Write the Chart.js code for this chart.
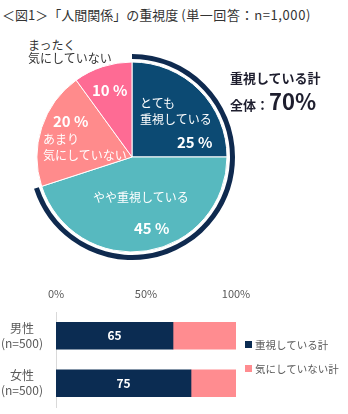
<!DOCTYPE html>
<html>
<head>
<meta charset="utf-8">
<script src="https://cdn.jsdelivr.net/npm/chart.js@4.4.1/dist/chart.umd.min.js"></script>
<style>
  body { margin: 0; width: 348px; height: 414px; background: #fff; position: relative; overflow: hidden;
         font-family: "Noto Sans CJK JP", "Noto Sans", sans-serif; }
  .t { position: absolute; white-space: nowrap; line-height: 1; }
  .w { color: #fff; font-size: 12px; }
  .wb { color: #fff; font-size: 15px; font-weight: bold; }
  .g { color: #333; font-size: 12px; }
  #pieBox { position: absolute; left: 29px; top: 54px; width: 206px; height: 206px; }
  #barBox { position: absolute; left: 0; top: 280px; width: 348px; height: 134px; }
  .lg { position: absolute; left: 245px; font-size: 10.5px; color: #595959; white-space: nowrap; line-height: 1; }
  .lg i { display: inline-block; width: 7px; height: 7px; margin-right: 3px; vertical-align: 1px; }
</style>
</head>
<body>
<div class="t" style="left:2px; top:8px; font-size:13px; color:#333;">＜図1＞「人間関係」の重視度 <span style="letter-spacing:0.6px;">(単一回答：n=1,000)</span></div>

<div id="pieBox"><canvas id="pie"></canvas></div>

<div class="t g" style="left:28px; top:39px;">まったく</div>
<div class="t g" style="left:28px; top:52px;">気にしていない</div>
<div class="t wb" style="left:92px; top:82px;">10 %</div>
<div class="t w" style="left:140px; top:97px;">とても</div>
<div class="t w" style="left:140px; top:113px;">重視している</div>
<div class="t wb" style="left:177px; top:134px;">25 %</div>
<div class="t wb" style="left:53px; top:113px;">20 %</div>
<div class="t w" style="left:43px; top:133px;">あまり</div>
<div class="t w" style="left:43px; top:149px;">気にしていない</div>
<div class="t w" style="left:93px; top:191px;">やや重視している</div>
<div class="t wb" style="left:134px; top:220px;">45 %</div>

<div class="t" style="left:230px; top:71px; font-size:13px; font-weight:bold; color:#1e1e2e;">重視している計</div>
<div class="t" style="left:230px; top:89px; font-size:13px; font-weight:bold; color:#1e1e2e;">全体：<span style="font-size:22px;">70%</span></div>

<div id="barBox"><canvas id="bar"></canvas></div>
<div class="lg" style="top:340px;"><i style="background:#0b2c52"></i>重視している計</div>
<div class="lg" style="top:364px;"><i style="background:#ff8c90"></i>気にしていない計</div>

<script>
// pie data (clockwise from top)
const pieLabels = ['とても重視している', 'やや重視している', 'あまり気にしていない', 'まったく気にしていない'];
const pieValues = [25, 45, 20, 10];
const pieColors = ['#0c4a73', '#57b9bf', '#ff8b8c', '#fe6b94'];

// outer ring: total of 重視している
const ringValues = [70, 30];

// bar data
const barCategories = [['男性', '(n=500)'], ['女性', '(n=500)']];
const importantTotal = [65, 75];
const notCareTotal = [35, 25];
const xTicks = [0, 50, 100];

new Chart(document.getElementById('pie'), {
    type: 'doughnut',
    data: {
        labels: pieLabels,
        datasets: [
            {
                data: ringValues,
                backgroundColor: ['#0f2a4f', 'rgba(0,0,0,0)'],
                borderWidth: 0,
                weight: 5
            },
            {
                data: ringValues,
                backgroundColor: ['rgba(0,0,0,0)', 'rgba(0,0,0,0)'],
                borderWidth: 0,
                weight: 3
            },
            {
                data: pieValues,
                backgroundColor: pieColors,
                borderColor: '#ffffff',
                borderWidth: 1,
                weight: 95
            }
        ]
    },
    options: {
        responsive: true,
        maintainAspectRatio: false,
        animation: false,
        cutout: 0,
        plugins: { legend: { display: false }, tooltip: { enabled: false } }
    }
});

// value labels inside the navy bar segments
const barValueLabels = {
    id: 'barValueLabels',
    afterDatasetsDraw(chart) {
        const ctx = chart.ctx;
        const meta = chart.getDatasetMeta(0);
        ctx.save();
        ctx.fillStyle = '#ffffff';
        ctx.font = 'bold 12px "Noto Sans CJK JP", sans-serif';
        ctx.textAlign = 'center';
        ctx.textBaseline = 'middle';
        meta.data.forEach((bar, i) => {
            const p = bar.getCenterPoint();
            ctx.fillText(importantTotal[i], p.x, p.y);
        });
        ctx.restore();
    }
};

new Chart(document.getElementById('bar'), {
    type: 'bar',
    data: {
        labels: barCategories,
        datasets: [
            { label: '重視している計', data: importantTotal, backgroundColor: '#0b2c52', barThickness: 27 },
            { label: '気にしていない計', data: notCareTotal, backgroundColor: '#ff8c90', barThickness: 27 }
        ]
    },
    options: {
        indexAxis: 'y',
        responsive: true,
        maintainAspectRatio: false,
        animation: false,
        layout: { padding: { right: 112, bottom: 7 } },
        plugins: { legend: { display: false }, tooltip: { enabled: false } },
        scales: {
            x: {
                position: 'top',
                stacked: true,
                min: 0,
                max: 100,
                afterBuildTicks: (scale) => { scale.ticks = xTicks.map(v => ({ value: v })); },
                afterFit: (scale) => {
                    scale.height = 32;
                    scale.paddingLeft = 0;
                    scale.paddingRight = 0;
                },
                grid: { display: false, drawTicks: false },
                border: { display: false },
                ticks: {
                    color: '#595959',
                    font: { size: 11, family: '"Noto Sans CJK JP", sans-serif' },
                    padding: 12,
                    callback: (v) => v + '%'
                }
            },
            y: {
                stacked: true,
                afterFit: (scale) => {
                    scale.width = 56;
                    scale.paddingTop = 0;
                    scale.paddingBottom = 0;
                },
                grid: { display: false, drawTicks: false },
                border: { display: true, color: '#d9d9d9' },
                ticks: {
                    color: '#595959',
                    crossAlign: 'center',
                    padding: 13,
                    font: { size: 12, family: '"Noto Sans CJK JP", sans-serif', lineHeight: 1.25 }
                }
            }
        }
    },
    plugins: [barValueLabels]
});
</script>
</body>
</html>
